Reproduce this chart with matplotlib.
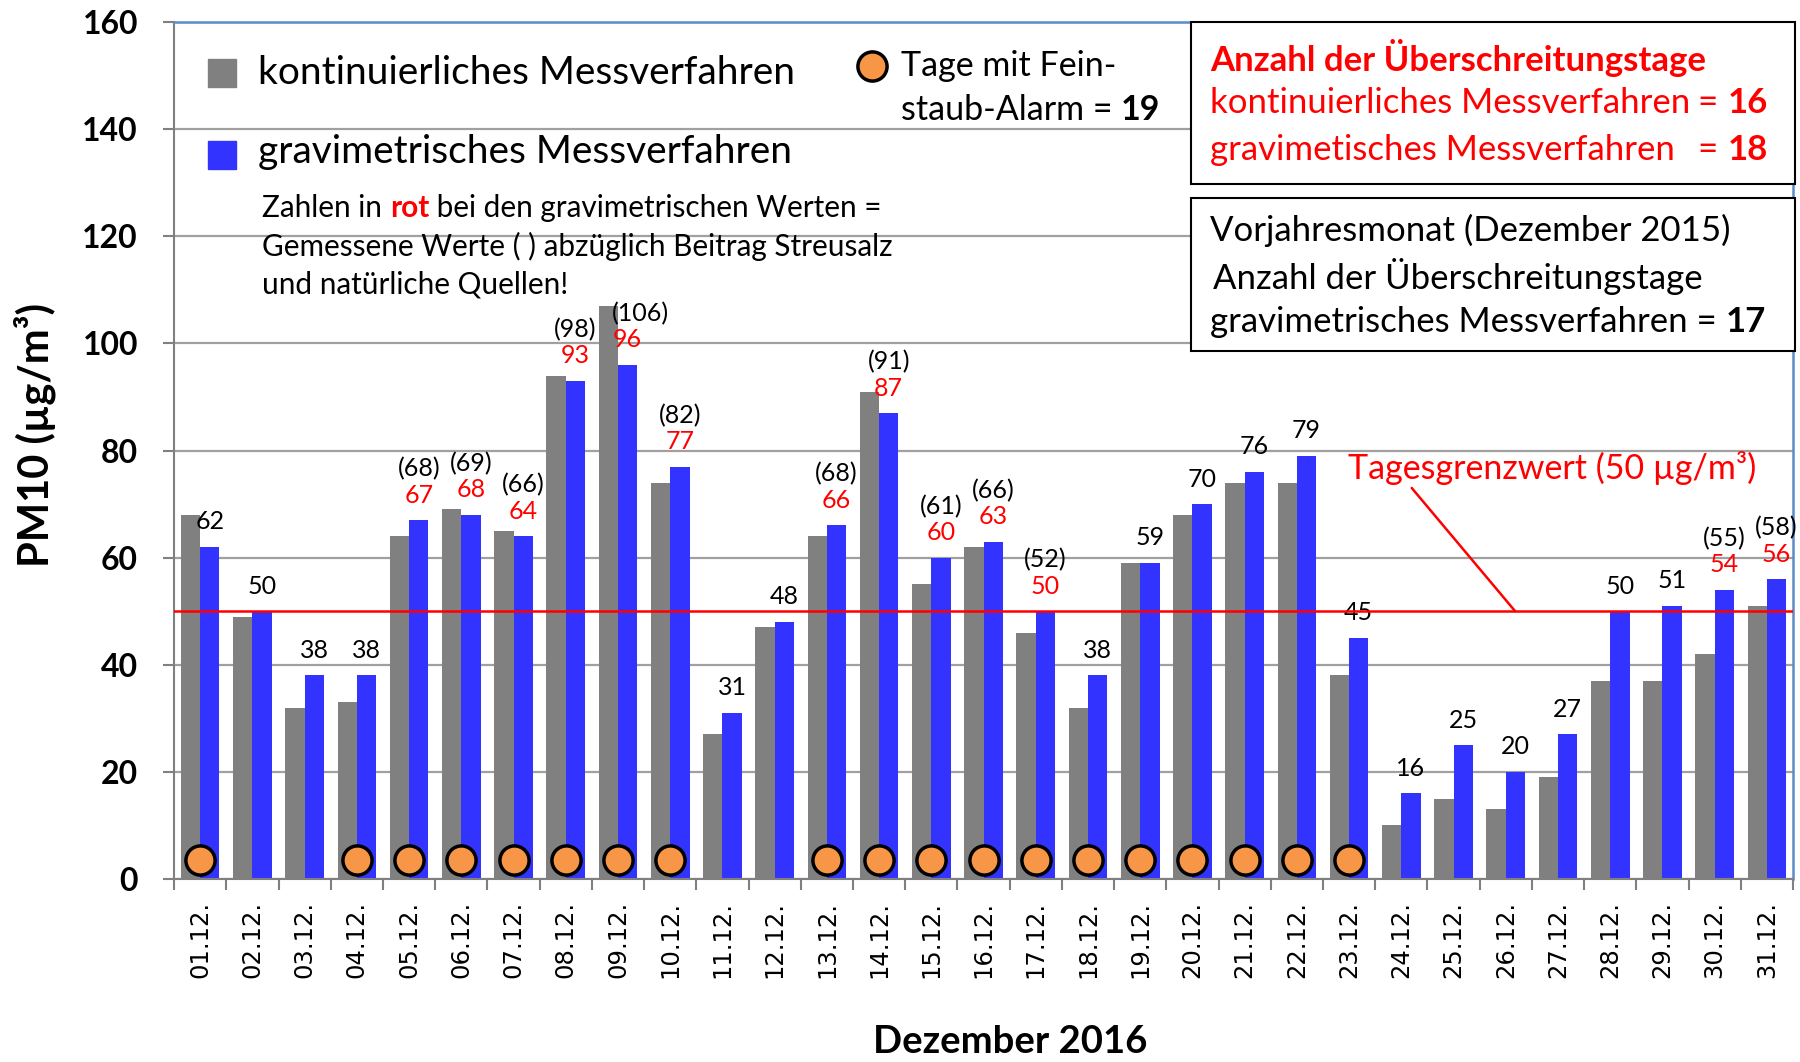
import numpy as np
import matplotlib.pyplot as plt
from matplotlib.patches import Rectangle

plt.rcParams['font.family'] = ['Lato', 'DejaVu Sans']

tage = ["01.12.", "02.12.", "03.12.", "04.12.", "05.12.", "06.12.", "07.12.", "08.12.",
        "09.12.", "10.12.", "11.12.", "12.12.", "13.12.", "14.12.", "15.12.", "16.12.",
        "17.12.", "18.12.", "19.12.", "20.12.", "21.12.", "22.12.", "23.12.", "24.12.",
        "25.12.", "26.12.", "27.12.", "28.12.", "29.12.", "30.12.", "31.12."]
kontinuierlich = [68, 49, 32, 33, 64, 69, 65, 94, 107, 74, 27, 47, 64, 91, 55, 62,
                  46, 32, 59, 68, 74, 74, 38, 10, 15, 13, 19, 37, 37, 42, 51]
gravimetrisch = [62, 50, 38, 38, 67, 68, 64, 93, 96, 77, 31, 48, 66, 87, 60, 63,
                 50, 38, 59, 70, 76, 79, 45, 16, 25, 20, 27, 50, 51, 54, 56]
# gemessene Werte vor Abzug Streusalz (None = kein Klammerwert)
gemessen = [None, None, None, None, 68, 69, 66, 98, 106, 82, None, None, 68, 91, 61, 66,
            52, None, None, None, None, None, None, None, None, None, None, None, None, 55, 58]
alarm = [1, 0, 0, 1, 1, 1, 1, 1, 1, 1, 0, 0, 1, 1, 1, 1,
         1, 1, 1, 1, 1, 1, 1, 0, 0, 0, 0, 0, 0, 0, 0]
grenzwert = 50

GRAY = '#808080'
BLUE = '#3333FF'
ORANGE = '#F79646'

fig = plt.figure(figsize=(18, 10.62), dpi=100)
ax = fig.add_axes([0.0967, 0.1723, 0.8994, 0.807])

x = np.arange(len(tage))
w = 0.37
ax.bar(x - w / 2, kontinuierlich, w, color=GRAY, zorder=2)
ax.bar(x + w / 2, gravimetrisch, w, color=BLUE, zorder=2)
ax.axhline(grenzwert, color='red', lw=1.8, zorder=4)

xa = x[np.array(alarm) == 1]
ax.plot(xa, np.full(len(xa), 3.6), 'o', ms=21, mfc=ORANGE, mec='black', mew=2.5,
        zorder=5, clip_on=False)

# Werte ueber den Balken
nudge = {8: 9}
for i in range(len(tage)):
    dx = nudge.get(i, 0)
    if gemessen[i] is None:
        ax.annotate(str(gravimetrisch[i]), (x[i] + w / 2, gravimetrisch[i]), xytext=(0, 18),
                    textcoords='offset points', ha='center', va='center', fontsize=18)
    else:
        ax.annotate(str(gravimetrisch[i]), (x[i] + w / 2, gravimetrisch[i]), xytext=(0, 18),
                    textcoords='offset points', ha='center', va='center', fontsize=18,
                    color='red')
        ax.annotate("(%d)" % gemessen[i], (x[i] + w / 2, gravimetrisch[i]), xytext=(dx, 37),
                    textcoords='offset points', ha='center', va='center', fontsize=18)

ax.set_xlim(-0.5, len(tage) - 0.5)
ax.set_ylim(0, 160)
ax.set_yticks(range(0, 161, 20))
ax.set_xticks(x)
ax.set_xticklabels(tage, rotation=90, fontsize=17.5, family='DejaVu Sans', va='top')
ax.set_xticks(np.arange(-0.5, len(tage), 1), minor=True)
ax.tick_params(axis='x', which='major', length=0, pad=16)
ax.tick_params(axis='x', which='minor', length=8, width=1.5, color=GRAY)
ax.tick_params(axis='y', length=8, width=1.5, color=GRAY, pad=18, labelsize=23)
for lab in ax.get_yticklabels():
    lab.set_fontweight('bold')

ax.grid(axis='y', color='#A0A0A0', lw=1.6, zorder=0)
ax.set_axisbelow(True)
for s in ['left', 'bottom']:
    ax.spines[s].set_color(GRAY)
    ax.spines[s].set_linewidth(1.5)
for s in ['top', 'right']:
    ax.spines[s].set_color('#5B8BC9')
    ax.spines[s].set_linewidth(1.8)

fig.text(0.0195, 0.59, "PM10 (µg/m³)", rotation=90, ha='center', va='center',
         fontsize=30, fontweight='bold')
fig.text(0.561, 0.0188, "Dezember 2016", ha='center', va='center', fontsize=27.5,
         fontweight='bold')


def zeile(x0, y0, parts, size, z=7):
    t = None
    for s, bold, col in parts:
        kw = dict(fontsize=size, color=col, fontweight='bold' if bold else 'normal', zorder=z)
        if t is None:
            t = ax.text(x0, y0, s, transform=ax.transAxes, ha='left', va='center', **kw)
        else:
            t = ax.annotate(s, xy=(1, 0), xycoords=t, ha='left', va='bottom', **kw)
    return t


# Legende
ax.plot([0.0294], [0.941], 's', ms=20, color=GRAY, transform=ax.transAxes, clip_on=False)
ax.plot([0.0294], [0.8447], 's', ms=20, color=BLUE, transform=ax.transAxes, clip_on=False)
zeile(0.0518, 0.940, [("kontinuierliches Messverfahren", False, 'black')], 28)
zeile(0.0518, 0.848, [("gravimetrisches Messverfahren", False, 'black')], 28)
ax.plot([0.431], [0.949], 'o', ms=21, mfc=ORANGE, mec='black', mew=2.5,
        transform=ax.transAxes, clip_on=False)
zeile(0.449, 0.949, [("Tage mit Fein-", False, 'black')], 24.5)
zeile(0.449, 0.897, [("staub-Alarm = ", False, 'black'), ("19", True, 'black')], 24.5)

zeile(0.0546, 0.783, [("Zahlen in ", False, 'black'), ("rot", True, 'red'),
                      (" bei den gravimetrischen Werten =", False, 'black')], 21.4)
zeile(0.0546, 0.7376, [("Gemessene Werte ( ) abzüglich Beitrag Streusalz", False, 'black')], 21.4)
zeile(0.0546, 0.6934, [("und natürliche Quellen!", False, 'black')], 21.4)

# Kaesten rechts oben
for y0, y1 in [(0.811, 1.0), (0.616, 0.795)]:
    ax.add_patch(Rectangle((0.628, y0), 1.0014 - 0.628, y1 - y0, transform=ax.transAxes,
                           facecolor='white', edgecolor='black', lw=1.5, zorder=6,
                           clip_on=False))
zeile(0.640, 0.958, [("Anzahl der Überschreitungstage", True, 'red')], 25)
zeile(0.640, 0.905, [("kontinuierliches Messverfahren", False, 'red')], 25)
zeile(0.9415, 0.905, [("= ", False, 'red'), ("16", True, 'red')], 25)
zeile(0.640, 0.851, [("gravimetisches Messverfahren", False, 'red')], 25)
zeile(0.9415, 0.851, [("= ", False, 'red'), ("18", True, 'red')], 25)

zeile(0.640, 0.757, [("Vorjahresmonat (Dezember 2015)", False, 'black')], 25)
zeile(0.642, 0.703, [("Anzahl der Überschreitungstage", False, 'black')], 25)
zeile(0.640, 0.650, [("gravimetrisches Messverfahren = ", False, 'black'),
                     ("17", True, 'black')], 25)

ax.text(25.89, 76.7, "Tagesgrenzwert (50 µg/m³)", ha='center', va='center',
        fontsize=24.5, color='red')
ax.annotate("", xy=(25.18, grenzwert), xytext=(23.2, 73),
            arrowprops=dict(arrowstyle='-', color='red', lw=1.8, shrinkA=0, shrinkB=0))

fig.savefig('out.png', dpi=100, facecolor='white')
